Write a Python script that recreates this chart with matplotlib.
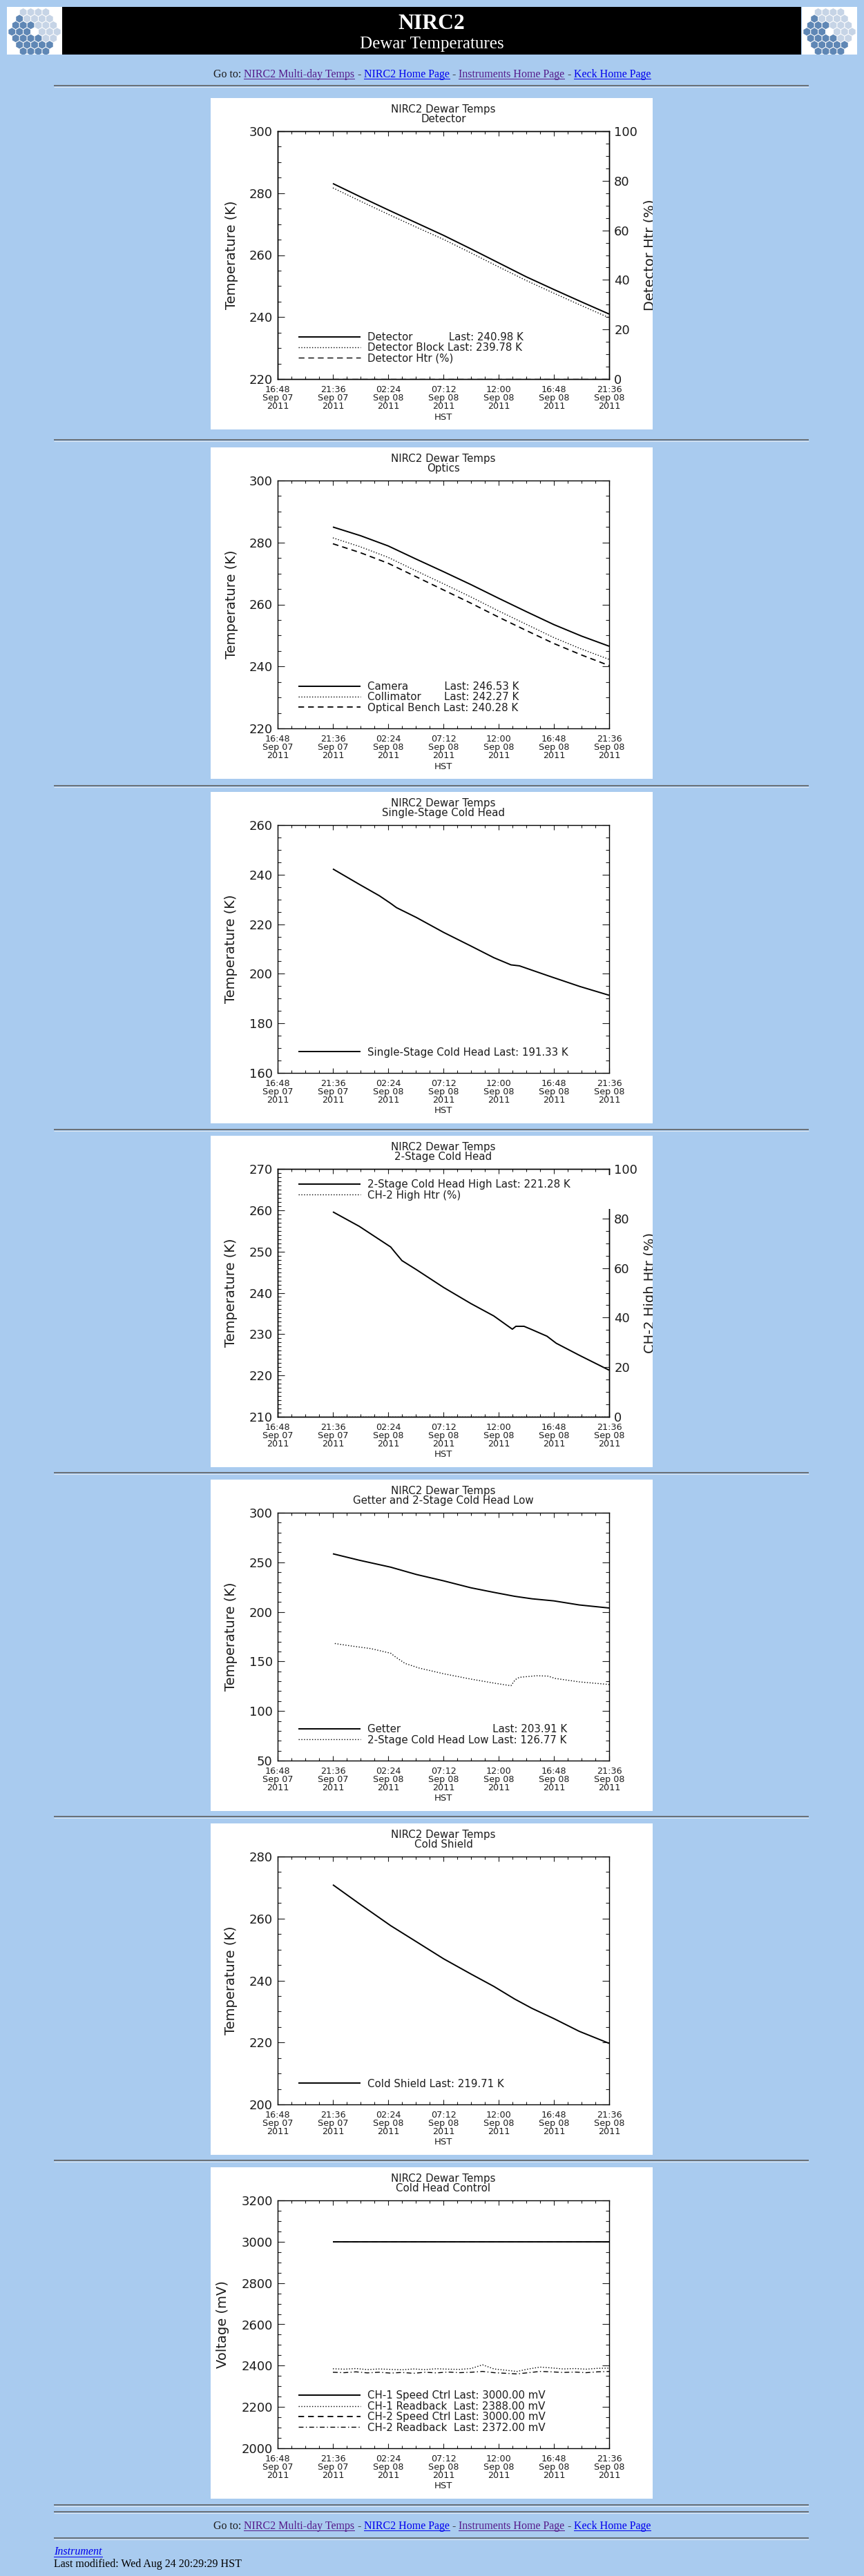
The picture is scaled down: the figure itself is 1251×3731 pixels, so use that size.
import matplotlib
matplotlib.use("Agg")
import matplotlib.pyplot as plt
from matplotlib.patches import Rectangle, RegularPolygon
from matplotlib.lines import Line2D
from matplotlib.ticker import FixedLocator, MultipleLocator
from matplotlib.transforms import Bbox, TransformedBbox
from matplotlib.font_manager import FontProperties
import math

W, H, DPI = 1251, 3731, 100
BG = "#a9cbef"
INK = "#1c1c1c"
BLUE = "#0000ee"
PURPLE = "#551a8b"

# ------------------------------------------------------------------ data
XTICK_HOURS = [0.0, 4.8, 9.6, 14.4, 19.2, 24.0, 28.8]   # hours since 16:48 Sep 07 2011
XTICK_LABELS = ["16:48\nSep 07\n2011", "21:36\nSep 07\n2011", "02:24\nSep 08\n2011",
                "07:12\nSep 08\n2011", "12:00\nSep 08\n2011", "16:48\nSep 08\n2011",
                "21:36\nSep 08\n2011"]

# Panel 1 - Detector
det_t = [4.8, 7.2, 9.6, 12.0, 14.4, 16.8, 19.2, 21.6, 24.0, 26.4, 28.8]
det_detector = [283.1, 278.8, 274.6, 270.5, 266.4, 262.0, 257.5, 253.0, 248.9, 244.9, 240.98]
det_block = [281.7, 277.4, 273.2, 269.1, 265.1, 260.7, 256.2, 251.8, 247.7, 243.7, 239.78]
det_htr_t = [4.8, 28.8]
det_htr = [0.0, 0.0]

# Panel 2 - Optics
opt_t = [4.8, 7.2, 9.6, 12.0, 14.4, 16.8, 19.2, 21.6, 24.0, 26.4, 28.8]
opt_camera = [285.0, 282.2, 278.9, 274.7, 270.6, 266.4, 262.0, 257.7, 253.5, 249.8, 246.53]
opt_collimator = [281.5, 278.6, 275.2, 270.9, 266.7, 262.4, 257.9, 253.6, 249.3, 245.6, 242.27]
opt_bench = [279.6, 276.7, 273.3, 269.0, 264.7, 260.4, 255.9, 251.6, 247.4, 243.7, 240.28]

# Panel 3 - Single-Stage Cold Head
ss_t = [4.8, 7.09, 8.83, 9.82, 10.32, 12.06, 14.42, 16.79, 18.78, 20.27, 21.01, 23.5, 26.24, 28.8]
ss_temp = [242.3, 236.1, 231.5, 228.4, 226.7, 222.7, 216.7, 211.2, 206.5, 203.6, 203.2, 199.2, 194.9, 191.33]

# Panel 4 - 2-Stage Cold Head
ts_t = [4.8, 7.09, 9.82, 10.2, 10.8, 12.06, 14.42, 16.79, 18.78, 20.39, 20.7, 21.4, 22.0,
        23.4, 24.2, 26.2, 28.8]
ts_high = [259.6, 256.1, 251.1, 249.8, 247.8, 245.6, 241.3, 237.4, 234.4, 231.2, 231.9, 231.9,
           231.2, 229.5, 227.8, 224.9, 221.28]
ts_htr_t = [4.8, 28.8]
ts_htr = [0.0, 0.0]

# Panel 5 - Getter and 2-Stage Cold Head Low
get_t = [4.8, 7.09, 9.82, 12.06, 14.42, 16.79, 18.78, 20.6, 22.1, 24.0, 26.2, 28.8]
get_temp = [258.6, 252.1, 245.1, 237.7, 231.3, 224.3, 219.7, 215.7, 213.2, 211.1, 207.0, 203.91]
low_t = [4.97, 6.34, 8.08, 9.82, 10.2, 11.07, 12.31, 14.42, 16.79, 18.78, 20.27, 20.65, 21.0,
         22.5, 23.5, 24.1, 26.2, 28.8]
low_temp = [168.1, 165.7, 163.0, 158.3, 154.9, 148.0, 143.3, 137.6, 132.2, 128.2, 125.5, 131.7,
            134.0, 135.6, 135.2, 132.9, 129.4, 126.77]

# Panel 6 - Cold Shield
cs_t = [4.8, 7.09, 9.82, 12.06, 14.42, 16.79, 18.78, 20.6, 22.1, 24.0, 26.2, 28.8]
cs_temp = [270.9, 264.8, 257.7, 252.5, 247.0, 242.1, 238.1, 234.0, 231.0, 227.7, 223.6, 219.71]

# Panel 7 - Cold Head Control
ctl_speed_t = [4.8, 28.8]
ch1_speed = [3000.0, 3000.0]
ch2_speed = [3000.0, 3000.0]
rb_t = [4.8, 5.8, 6.8, 7.8, 8.8, 9.8, 10.8, 11.8, 12.8, 13.8, 14.8, 15.8, 16.8, 17.8, 18.8,
        19.8, 20.8, 21.8, 22.8, 23.8, 24.8, 25.8, 26.8, 27.8, 28.8]
ch1_readback = [2385, 2383, 2386, 2381, 2384, 2382, 2380, 2384, 2381, 2385, 2383, 2382, 2386,
                2404, 2384, 2378, 2372, 2384, 2393, 2389, 2384, 2386, 2383, 2387, 2388]
ch2_readback = [2368, 2366, 2370, 2365, 2368, 2364, 2367, 2363, 2368, 2365, 2369, 2366, 2368,
                2372, 2366, 2363, 2360, 2366, 2372, 2370, 2367, 2369, 2366, 2370, 2372]

# ------------------------------------------------------------------ figure helpers
fig = plt.figure(figsize=(W / DPI, H / DPI), dpi=DPI)
fig.patch.set_facecolor(BG)
renderer = fig.canvas.get_renderer()


def fx(x):
    return x / W


def fy(y):
    return 1.0 - y / H


def pt(px):
    return px * 72.0 / DPI


def twidth(s, prop):
    w, h, d = renderer.get_text_width_height_descent(s, prop, ismath=False)
    return w


SOLID = dict(color="black", lw=1.4, linestyle="-")
DOTTED = dict(color="black", lw=1.0, linestyle=(0, (1.0, 1.8)))
DASHED = dict(color="black", lw=1.3, linestyle=(0, (4.6, 3.2)))
DASHED_THIN = dict(color="black", lw=1.0, linestyle=(0, (6.0, 4.0)))
DASHDOT = dict(color="black", lw=1.0, linestyle=(0, (5.0, 2.5, 1.0, 2.5)))

LEG_FS = 10.8


def pad_labels(entries):
    prop = FontProperties(size=LEG_FS)
    sp = twidth("a a", prop) - twidth("aa", prop)
    named = [e for e in entries if e[1] is not None]
    maxw = max([twidth(n, prop) for n, _ in named]) if named else 0
    out = []
    for name, last in entries:
        if last is None:
            out.append(name)
        else:
            n = int(round((maxw - twidth(name, prop)) / sp))
            out.append(name + " " * (n + 1) + last)
    return out


def style_axis(ax, ylim, ystep, yminor, left=True, right=True):
    ax.set_ylim(*ylim)
    majors = []
    v = ylim[0]
    while v <= ylim[1] + 1e-9:
        majors.append(v)
        v += ystep
    ax.yaxis.set_major_locator(FixedLocator(majors))
    ax.set_yticklabels([str(int(round(m))) for m in majors])
    ax.yaxis.set_minor_locator(MultipleLocator(yminor))
    ax.tick_params(axis="y", which="both", direction="in", left=left, right=right,
                   labelleft=left, labelright=(right and not left), colors=INK,
                   labelsize=13, pad=5.2)
    ax.tick_params(axis="y", which="major", length=pt(9.6), width=0.8)
    ax.tick_params(axis="y", which="minor", length=pt(4.8), width=0.8)


def make_panel(top, subtitle, ylim, ystep, yminor, ylabel, ylabel_x, left_series,
               legend_entries, legend_pos, right=None, legend_box=False):
    # white image background
    fig.add_artist(Rectangle((fx(305), fy(top + 480)), 640 / W, 480 / H,
                             transform=fig.transFigure, facecolor="white",
                             edgecolor="none", zorder=-5))
    ax = fig.add_axes([fx(402), fy(top + 407), 480 / W, 359 / H])
    ax.set_facecolor("white")
    for s in ax.spines.values():
        s.set_linewidth(1.0)
        s.set_color("black")
    handles = []
    for t, v, style in left_series:
        ln, = ax.plot(t, v, **style, solid_capstyle="butt")
        handles.append(ln)
    ax.set_xlim(0, 28.8)
    ax.xaxis.set_major_locator(FixedLocator(XTICK_HOURS))
    ax.set_xticklabels(XTICK_LABELS, linespacing=0.87)
    ax.xaxis.set_minor_locator(MultipleLocator(1.2))
    ax.tick_params(axis="x", which="both", direction="in", top=True, bottom=True,
                   colors=INK, labelsize=9.2, pad=6.8)
    ax.tick_params(axis="x", which="major", length=pt(7.2), width=0.8)
    ax.tick_params(axis="x", which="minor", length=pt(3.6), width=0.8)
    style_axis(ax, ylim, ystep, yminor, left=True, right=(right is None))

    ax.set_xlabel("HST", fontsize=9.5, color=INK)
    ax.xaxis.set_label_coords(0.5, -48.5 / 359)
    ax.set_ylabel(ylabel, fontsize=14, color=INK)
    ax.yaxis.set_label_coords(ylabel_x, 0.5)

    ax.text(0.5, 1 + 24.5 / 359, "NIRC2 Dewar Temps\n" + subtitle, transform=ax.transAxes,
            ha="center", va="center", fontsize=10.8, color=INK, linespacing=0.93)

    lax = ax
    if right is not None:
        ax2 = ax.twinx()
        rt, rv, rstyle, rlabel, rlim, rstep, rminor = right
        ln, = ax2.plot(rt, rv, **rstyle)
        handles.append(ln)
        style_axis(ax2, rlim, rstep, rminor, left=False, right=True)
        for s in ax2.spines.values():
            s.set_linewidth(1.0)
        lab = ax2.set_ylabel(rlabel, fontsize=14, color=INK)
        ax2.yaxis.set_label_coords(1.104, 0.5)
        clip = TransformedBbox(Bbox([[fx(305), fy(top + 480)], [fx(945), fy(top)]]),
                               fig.transFigure)
        lab.set_clip_box(clip)
        lab.set_clip_on(True)
        lax = ax2

    if legend_box:
        lax.add_patch(Rectangle((0.045, 1 - 58 / 359), 0.975, 49 / 359,
                                transform=lax.transAxes, facecolor="white",
                                edgecolor="none", zorder=3, clip_on=False))
    labels = pad_labels(legend_entries)
    loc, anchor = legend_pos
    leg = lax.legend(handles, labels, loc=loc, bbox_to_anchor=anchor,
                     bbox_transform=ax.transAxes, fontsize=LEG_FS, frameon=False,
                     borderpad=0, borderaxespad=0, handlelength=6.0, handletextpad=0.7,
                     labelspacing=0.03)
    leg.set_zorder(6)
    for txt in leg.get_texts():
        txt.set_color(INK)
    return ax


BOTTOM_LEG = ("lower left", (0.0625, 0.062))
TOP_LEG = ("upper left", (0.0625, 1 - 15.2 / 359))

PANEL_TOPS = [142, 648, 1147, 1645, 2143, 2641, 3139]

make_panel(PANEL_TOPS[0], "Detector", (220, 300), 20, 5, "Temperature (K)", -0.119,
           [(det_t, det_detector, SOLID), (det_t, det_block, DOTTED)],
           [("Detector", "Last: 240.98 K"), ("Detector Block", "Last: 239.78 K"),
            ("Detector Htr (%)", None)],
           BOTTOM_LEG,
           right=(det_htr_t, det_htr, DASHED_THIN, "Detector Htr (%)", (0, 100), 20, 5))

make_panel(PANEL_TOPS[1], "Optics", (220, 300), 20, 5, "Temperature (K)", -0.119,
           [(opt_t, opt_camera, SOLID), (opt_t, opt_collimator, DOTTED),
            (opt_t, opt_bench, DASHED)],
           [("Camera", "Last: 246.53 K"), ("Collimator", "Last: 242.27 K"),
            ("Optical Bench", "Last: 240.28 K")],
           BOTTOM_LEG)

make_panel(PANEL_TOPS[2], "Single-Stage Cold Head", (160, 260), 20, 5, "Temperature (K)",
           -0.121, [(ss_t, ss_temp, SOLID)],
           [("Single-Stage Cold Head", "Last: 191.33 K")], BOTTOM_LEG)

make_panel(PANEL_TOPS[3], "2-Stage Cold Head", (210, 270), 10, 1, "Temperature (K)", -0.121,
           [(ts_t, ts_high, SOLID)],
           [("2-Stage Cold Head High", "Last: 221.28 K"), ("CH-2 High Htr (%)", None)],
           TOP_LEG,
           right=(ts_htr_t, ts_htr, DOTTED, "CH-2 High Htr (%)", (0, 100), 20, 5),
           legend_box=True)

make_panel(PANEL_TOPS[4], "Getter and 2-Stage Cold Head Low", (50, 300), 50, 10,
           "Temperature (K)", -0.121,
           [(get_t, get_temp, SOLID), (low_t, low_temp, DOTTED)],
           [("Getter", "Last: 203.91 K"), ("2-Stage Cold Head Low", "Last: 126.77 K")],
           BOTTOM_LEG)

make_panel(PANEL_TOPS[5], "Cold Shield", (200, 280), 20, 5, "Temperature (K)", -0.121,
           [(cs_t, cs_temp, SOLID)], [("Cold Shield", "Last: 219.71 K")], BOTTOM_LEG)

make_panel(PANEL_TOPS[6], "Cold Head Control", (2000, 3200), 200, 50, "Voltage (mV)", -0.146,
           [(ctl_speed_t, ch1_speed, SOLID), (rb_t, ch1_readback, DOTTED),
            (ctl_speed_t, ch2_speed, DASHED), (rb_t, ch2_readback, DASHDOT)],
           [("CH-1 Speed Ctrl", "Last: 3000.00 mV"), ("CH-1 Readback", "Last: 2388.00 mV"),
            ("CH-2 Speed Ctrl", "Last: 3000.00 mV"), ("CH-2 Readback", "Last: 2372.00 mV")],
           BOTTOM_LEG)

# ------------------------------------------------------------------ page chrome
fig.add_artist(Rectangle((fx(90), fy(79)), 1070 / W, 69 / H, transform=fig.transFigure,
                         facecolor="black", edgecolor="none", zorder=-4))
serif = "Liberation Serif"
fig.text(fx(625), fy(41.5), "NIRC2", color="white", fontsize=22.8, fontweight="bold",
         family=serif, ha="center", va="baseline")
fig.text(fx(625), fy(70), "Dewar Temperatures", color="white", fontsize=18, family=serif,
         ha="center", va="baseline")


def draw_logo(x0):
    lg = fig.add_axes([fx(x0), fy(79), 80 / W, 69 / H])
    lg.set_xlim(0, 80)
    lg.set_ylim(69, 0)
    lg.set_facecolor("white")
    lg.set_xticks([])
    lg.set_yticks([])
    for s in lg.spines.values():
        s.set_visible(False)
    r = 6.3
    cx, cy = 40, 36
    for q in range(-3, 4):
        for s in range(-3, 4):
            d = max(abs(q), abs(s), abs(q + s))
            if d == 0 or d > 3:
                continue
            x = cx + math.sqrt(3) * r * (q + s / 2.0)
            y = cy + 1.5 * r * s
            col = "#5f87b5" if (x - cx) - (y - cy) < 4 else "#c6d4e6"
            lg.add_patch(RegularPolygon((x, y), 6, radius=r * 0.9, orientation=0,
                                        facecolor=col, edgecolor="none"))


draw_logo(10)
draw_logo(1161)


def add_hr(y):
    fig.add_artist(Line2D([fx(78), fx(1171)], [fy(y), fy(y)], transform=fig.transFigure,
                          color="#5b5b5b", lw=pt(1.6), solid_capstyle="butt"))
    fig.add_artist(Line2D([fx(78), fx(1171)], [fy(y + 1.6), fy(y + 1.6)],
                          transform=fig.transFigure, color="#dfe7f0", lw=pt(1.0),
                          solid_capstyle="butt"))


for yy in [124, 637, 1138, 1636, 2133, 2631, 3129, 3628, 3638, 3676]:
    add_hr(yy)

GOTO_SEGMENTS = [("Go to: ", INK, False), ("NIRC2 Multi-day Temps", PURPLE, True),
                 (" - ", INK, False), ("NIRC2 Home Page", BLUE, True), (" - ", INK, False),
                 ("Instruments Home Page", PURPLE, True), (" - ", INK, False),
                 ("Keck Home Page", BLUE, True)]


def goto_line(baseline):
    prop = FontProperties(family=serif, size=11.5)
    full = "".join(s for s, _, _ in GOTO_SEGMENTS)
    total = twidth(full, prop)
    x0 = 625.5 - total / 2
    bar = twidth("|", prop)
    prefix = ""
    for s, col, link in GOTO_SEGMENTS:
        stripped = s.strip()
        lead = s[: len(s) - len(s.lstrip())]
        pre = prefix + lead
        start = x0 + (twidth(pre + "|", prop) - bar if pre else 0)
        fig.text(fx(start), fy(baseline), stripped, fontproperties=prop, color=col,
                 ha="left", va="baseline")
        if link:
            w = twidth(stripped, prop)
            fig.add_artist(Line2D([fx(start), fx(start + w)], [fy(baseline + 2.2)] * 2,
                                  transform=fig.transFigure, color=col, lw=pt(1.0)))
        prefix += s


goto_line(112)
goto_line(3663)

iprop = FontProperties(family=serif, size=11.5, style="italic")
fig.text(fx(78), fy(3700), "Instrument", fontproperties=iprop, color=BLUE, ha="left",
         va="baseline")
fig.add_artist(Line2D([fx(78), fx(78 + twidth("Instrument", iprop))], [fy(3702.5)] * 2,
                      transform=fig.transFigure, color=BLUE, lw=pt(1.0)))
fig.text(fx(78), fy(3718), "Last modified: Wed Aug 24 20:29:29 HST", family=serif,
         fontsize=11.5, color="black", ha="left", va="baseline")

fig.savefig("out.png", dpi=DPI, facecolor=BG)
